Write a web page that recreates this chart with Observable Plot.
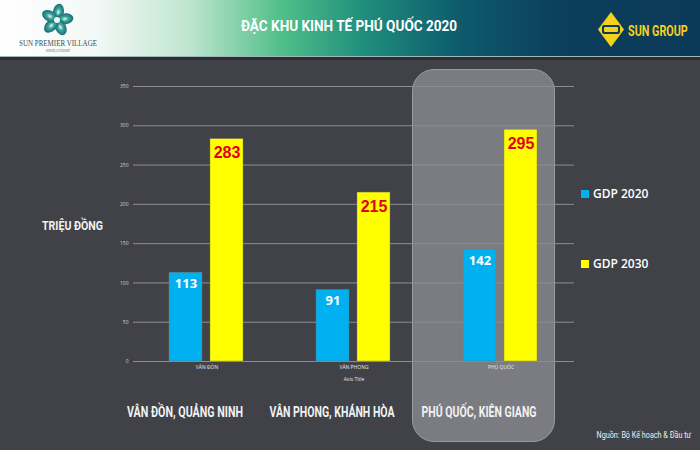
<!DOCTYPE html>
<html>
<head>
<meta charset="utf-8">
<script src="https://cdn.jsdelivr.net/npm/d3@7"></script>
<script src="https://cdn.jsdelivr.net/npm/@observablehq/plot@0.6"></script>
<style>
  html, body { margin: 0; padding: 0; }
  body { width: 700px; height: 450px; overflow: hidden; background: #404248; }
  #page { position: relative; width: 700px; height: 450px; background: #404248; font-family: "Open Sans", "DejaVu Sans", sans-serif; }
  #header { position: absolute; left: 0; top: 0; width: 700px; height: 56px;
    background: linear-gradient(90deg, #ffffff 0%, #f2f8f5 14%, #bfe5cf 27%, #52c089 40%, #1f8e7c 52%, #0d5a6c 66%, #0b3f5c 80%, #0b3a58 100%); }
  #hline1 { position: absolute; left: 0; top: 56px; width: 700px; height: 1px; background: #9fb3bb; }
  #hline2 { position: absolute; left: 0; top: 57px; width: 700px; height: 3px; background: #2c2e32; }
  #box { position: absolute; left: 412px; top: 69px; width: 141px; height: 371px; border-radius: 22px;
    background: #7b7c82; border: 1px solid #9a9ba1; }
  #chart { position: absolute; left: 0; top: 60px; }
  #overlay { position: absolute; left: 0; top: 0; pointer-events: none; }
  .leg { position: absolute; left: 581px; color: #fff; font-family: "Open Sans", sans-serif; font-weight: 600; font-size: 12px; }
  .leg span.sw { display: inline-block; width: 8px; height: 8px; margin-right: 4px; vertical-align: 0px; }
</style>
</head>
<body>
<div id="page">
  <div id="header"></div>
  <div id="hline1"></div>
  <div id="hline2"></div>
  <div id="box"></div>
  <div id="chart"></div>
  <svg id="overlay" width="700" height="450">
    <defs>
      <radialGradient id="pg" cx="0.5" cy="0.5" r="0.6">
        <stop offset="0" stop-color="#e8f6f0"/>
        <stop offset="0.35" stop-color="#3aa59c"/>
        <stop offset="1" stop-color="#0f5668"/>
      </radialGradient>
    </defs>
    <g transform="translate(57,20)" fill="url(#pg)">
      <ellipse cx="0" cy="-8" rx="5.5" ry="8.5" transform="rotate(10)"/>
      <ellipse cx="0" cy="-8" rx="5.5" ry="8.5" transform="rotate(82)"/>
      <ellipse cx="0" cy="-8" rx="5.5" ry="8.5" transform="rotate(154)"/>
      <ellipse cx="0" cy="-8" rx="5.5" ry="8.5" transform="rotate(226)"/>
      <ellipse cx="0" cy="-8" rx="5.5" ry="8.5" transform="rotate(298)"/>
      <circle r="3" fill="#e8f8f0"/>
    </g>
    <text x="19" y="46" textLength="78" lengthAdjust="spacingAndGlyphs" fill="#3d4d57"
      font-family="Liberation Serif, DejaVu Serif, serif" font-size="8.5">SUN PREMIER VILLAGE</text>
    <text x="58" y="52" text-anchor="middle" textLength="24" lengthAdjust="spacingAndGlyphs" fill="#55656e"
      font-family="Liberation Serif, serif" font-size="3">KEM BEACH RESORT</text>
    <text x="241" y="30.5" textLength="216" lengthAdjust="spacingAndGlyphs" fill="#ffffff"
      font-family="Roboto, sans-serif" font-weight="bold" font-size="14.5">ĐẶC KHU KINH TẾ PHÚ QUỐC 2020</text>
    <g transform="translate(598,12)">
      <polygon points="13,0 26,17.5 13,35 0,17.5" fill="#f4d21c"/>
      <rect x="4" y="13" width="18" height="9" rx="2" fill="#0b3a58"/>
      <rect x="6" y="15" width="14" height="5" rx="1" fill="#f4d21c"/>
    </g>
    <g transform="translate(628,35.5) scale(0.72,1)">
      <text x="0" y="0" fill="#f4d21c" font-family="Roboto, sans-serif" font-weight="bold" font-size="15">SUN GROUP</text>
    </g>
    <text x="42" y="229.5" textLength="61" lengthAdjust="spacingAndGlyphs" fill="#f2f2f2"
      font-family="Roboto, sans-serif" font-weight="bold" font-size="13">TRIỆU ĐỒNG</text>
    <g transform="translate(691,438) scale(0.85,1)">
      <text x="0" y="0" text-anchor="end" fill="#f0f0f0" font-family="Roboto, sans-serif" font-size="8.5">Nguồn: Bộ Kế hoạch &amp; Đầu tư</text>
    </g>
  </svg>
  <div class="leg" style="top:185px"><span class="sw" style="background:#00b0f0"></span>GDP 2020</div>
  <div class="leg" style="top:255px"><span class="sw" style="background:#ffff00"></span>GDP 2030</div>
</div>
<script>
// ---- data ----
const regions = ["VÂN ĐỒN", "VÂN PHONG", "PHÚ QUỐC"];
const regionLabels = ["VÂN ĐỒN, QUẢNG NINH", "VÂN PHONG, KHÁNH HÒA", "PHÚ QUỐC, KIÊN GIANG"];
const regionLabelWidths = [116, 125, 115];
const series = ["GDP 2020", "GDP 2030"];
const gdp2020 = [113, 91, 142];
const gdp2030 = [283, 215, 295];
const yTicks = [0, 50, 100, 150, 200, 250, 300, 350];
const seriesColors = ["#00b0f0", "#ffff00"];
const labelColors = ["#ffffff", "#e3001b"];

const rows = [];
regions.forEach((r, i) => {
  rows.push({region: r, series: series[0], value: gdp2020[i]});
  rows.push({region: r, series: series[1], value: gdp2030[i]});
});
const labelRows = regions.map((r, i) => ({region: r, label: regionLabels[i]}));

const chart = Plot.plot({
  width: 700,
  height: 390,
  marginLeft: 132,
  marginRight: 125,
  marginTop: 26,
  marginBottom: 89,
  style: {background: "transparent", color: "#d8d8d8", fontFamily: "Open Sans, sans-serif", overflow: "visible"},
  fx: {domain: regions, padding: 0},
  x: {domain: series, paddingInner: 0.19, paddingOuter: 0.853, axis: null},
  y: {domain: [0, 350]},
  color: {domain: series, range: seriesColors},
  marks: [
    Plot.ruleY(yTicks, {stroke: "#8d8e93", strokeWidth: 1}),
    Plot.axisY({ticks: yTicks, tickSize: 0, tickPadding: 5, fontSize: 5, label: null, fill: "#d0d0d0"}),
    Plot.axisFx({anchor: "bottom", tickSize: 0, tickPadding: 4, fontSize: 5, fill: "#e8e8e8",
                 label: "Axis Title", labelAnchor: "center", labelArrow: "none", labelOffset: 19}),
    Plot.barY(rows, {fx: "region", x: "series", y: "value", fill: "series", stroke: "#7a7a60", strokeWidth: 0.4}),
    Plot.text(rows.filter(d => d.series === series[0]), {fx: "region", x: "series", y: "value", text: d => String(d.value),
      dy: 11, fill: labelColors[0], fontSize: 13, fontWeight: "bold", fontFamily: "Open Sans, sans-serif", letterSpacing: 0.5}),
    Plot.text(rows.filter(d => d.series === series[1]), {fx: "region", x: "series", y: "value", text: d => String(d.value),
      dy: 14, fill: labelColors[1], fontSize: 16, fontWeight: "bold", fontFamily: "Liberation Sans, Arial, sans-serif"}),
    Plot.text(labelRows, {fx: "region", text: "label", frameAnchor: "bottom", dy: 55, dx: -22,
      fill: "#f2f2f2", fontSize: 14, fontWeight: "bold", fontFamily: "Roboto, sans-serif"})
  ]
});
// condense the big region labels to the reference widths
d3.select(chart).selectAll("text").each(function() {
  const i = regionLabels.indexOf(this.textContent);
  if (i >= 0) {
    this.setAttribute("textLength", regionLabelWidths[i]);
    this.setAttribute("lengthAdjust", "spacingAndGlyphs");
  }
});
document.getElementById("chart").appendChild(chart);
</script>
</body>
</html>
